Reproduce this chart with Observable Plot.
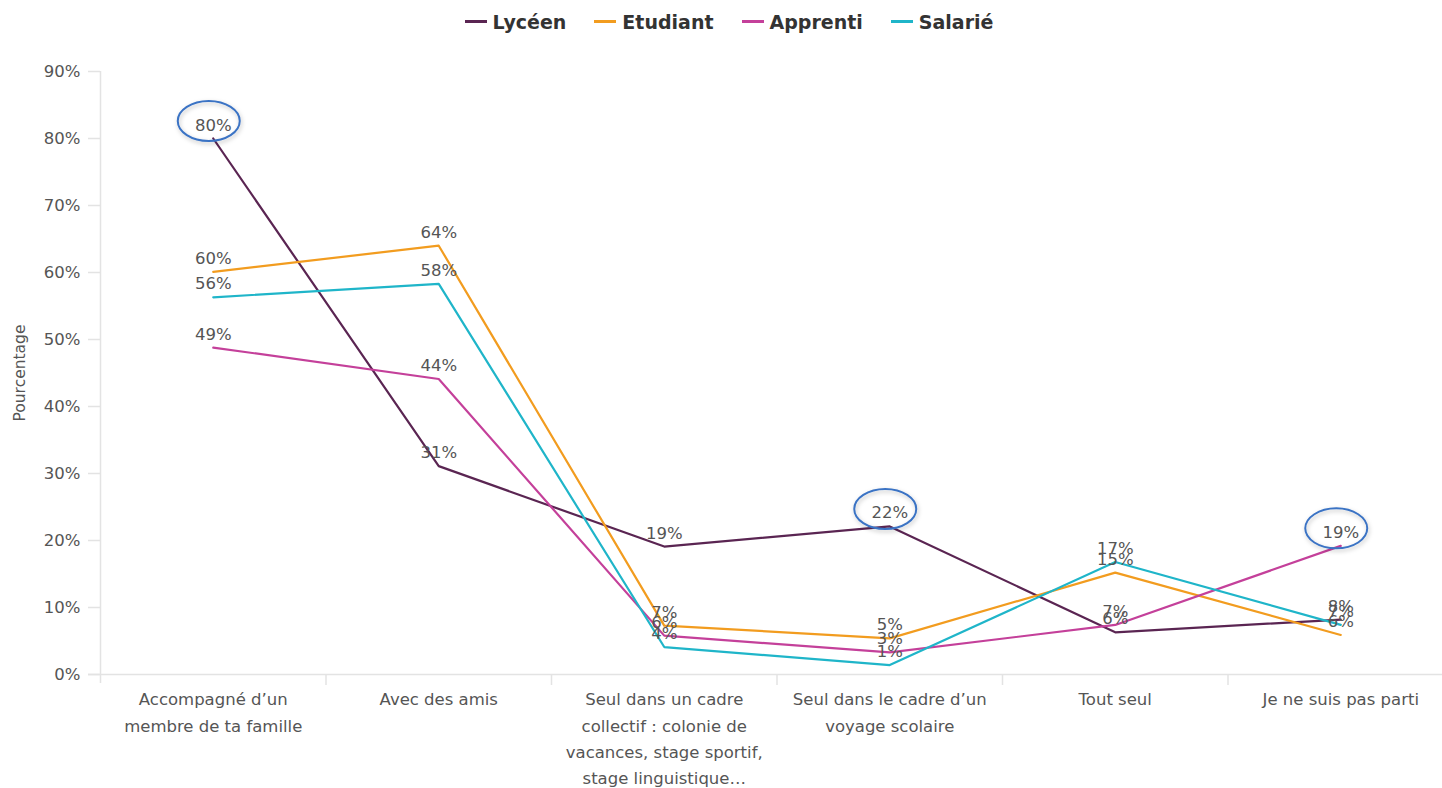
<!DOCTYPE html>
<html><head><meta charset="utf-8">
<script src="https://cdn.jsdelivr.net/npm/d3@7"></script>
<script src="https://cdn.jsdelivr.net/npm/@observablehq/plot@0.6"></script>
<style>
html,body{margin:0;padding:0;background:#fff;width:1442px;height:788px;overflow:hidden;font-family:"DejaVu Sans",Verdana,sans-serif;}
#legend{height:43px;display:flex;justify-content:center;align-items:center;gap:28px;padding-left:16px;box-sizing:border-box;font-weight:bold;font-size:19px;color:#333;}
#legend .item{display:flex;align-items:center;}
#legend .sw{display:inline-block;width:22px;height:3px;margin-right:6px;}
#chart svg{display:block;overflow:visible;}
</style></head>
<body>
<div id="legend"></div>
<div id="chart"></div>
<script>
const categories = [
  "Accompagné d’un\nmembre de ta famille",
  "Avec des amis",
  "Seul dans un cadre\ncollectif : colonie de\nvacances, stage sportif,\nstage linguistique…",
  "Seul dans le cadre d’un\nvoyage scolaire",
  "Tout seul",
  "Je ne suis pas parti"
];
const series = ["Lycéen", "Etudiant", "Apprenti", "Salarié"];
const colors = ["#5a2552", "#f29c1f", "#c4409a", "#1fb5c9"];
const lyceen   = [80.0, 31.1, 19.1, 22.1, 6.3, 8.2];
const etudiant = [60.1, 64.0, 7.3, 5.4, 15.2, 5.9];
const apprenti = [48.8, 44.1, 5.8, 3.3, 7.4, 19.2];
const salarie  = [56.3, 58.3, 4.1, 1.4, 16.8, 7.4];
const yTicks = [0, 10, 20, 30, 40, 50, 60, 70, 80, 90];
const highlights = [["Lycéen", 0], ["Lycéen", 3], ["Apprenti", 5]];

const values = [lyceen, etudiant, apprenti, salarie];
const data = [];
series.forEach((s, si) => values[si].forEach((v, ci) => data.push({serie: s, cat: ci, pos: ci + 0.5, value: v})));
const sepPositions = categories.slice(1).map((_, i) => i + 1);

// legend
const lg = document.getElementById("legend");
series.forEach((s, i) => {
  const it = document.createElement("div"); it.className = "item";
  it.innerHTML = `<span class="sw" style="background:${colors[i]}"></span><span>${s}</span>`;
  lg.appendChild(it);
});

const W = 1442, H = 745;
const plot = Plot.plot({
  width: W, height: H,
  marginTop: 28, marginBottom: 114, marginLeft: 100, marginRight: 0,
  style: {fontFamily: "DejaVu Sans, Verdana, sans-serif", color: "#555", background: "transparent"},
  x: {type: "linear", domain: [0, categories.length], range: [100, 1453], axis: null},
  y: {type: "linear", domain: [0, 90], axis: null},
  color: {domain: series, range: colors},
  marks: [
    Plot.ruleY([0], {x1: 0, x2: categories.length, insetLeft: -12, stroke: "#e3e3e3", strokeWidth: 1.5}),
    Plot.ruleX([0], {y1: 0, y2: 90, insetTop: 9, stroke: "#e3e3e3", strokeWidth: 1.5}),
    Plot.ruleY(yTicks, {y: d => d, x1: 0, x2: 0, insetLeft: -12, stroke: "#e3e3e3", strokeWidth: 1.5}),
    Plot.text(yTicks, {y: d => d, text: d => d + "%", frameAnchor: "left", dx: -20, textAnchor: "end", fill: "#555", fontSize: 16.5}),
    Plot.ruleX(sepPositions, {x: d => d, y1: 0, y2: 0, insetTop: 11, stroke: "#e3e3e3", strokeWidth: 1.5}),
    Plot.text(categories.map((c, i) => ({c, pos: i + 0.5})), {x: "pos", y: 0, text: "c", dy: 12, lineAnchor: "top", lineHeight: 1.6, fill: "#555", fontSize: 16.5}),
    Plot.text(["Pourcentage"], {text: d => d, frameAnchor: "left", dx: -80, textAnchor: "middle", rotate: -90, fill: "#555", fontSize: 15.5}),
    Plot.line(data, {x: "pos", y: "value", z: "serie", stroke: "serie", strokeWidth: 2.2}),
    Plot.text(data, {x: "pos", y: "value", text: d => Math.round(d.value) + "%", lineAnchor: "bottom", dy: -8, fill: "#555", fontSize: 16.5})
  ]
});
document.getElementById("chart").appendChild(plot);

// highlight ellipses placed with the plot's own scales
const sx = plot.scale("x"), sy = plot.scale("y");
const svg = d3.select(plot);
const defs = svg.append("defs");
const f = defs.append("filter").attr("id", "sh").attr("x", "-30%").attr("y", "-30%").attr("width", "160%").attr("height", "160%");
f.append("feDropShadow").attr("dx", 1).attr("dy", 2).attr("stdDeviation", 2).attr("flood-color", "#000").attr("flood-opacity", 0.25);
highlights.forEach(([s, ci]) => {
  const v = values[series.indexOf(s)][ci];
  const cx = sx.apply(ci + 0.5) - 4, cy = sy.apply(v) - 17;
  svg.append("ellipse").attr("cx", cx).attr("cy", cy).attr("rx", 31).attr("ry", 20)
    .attr("fill", "none").attr("stroke", "#3b73c4").attr("stroke-width", 2).attr("filter", "url(#sh)");
});
</script>
</body></html>
